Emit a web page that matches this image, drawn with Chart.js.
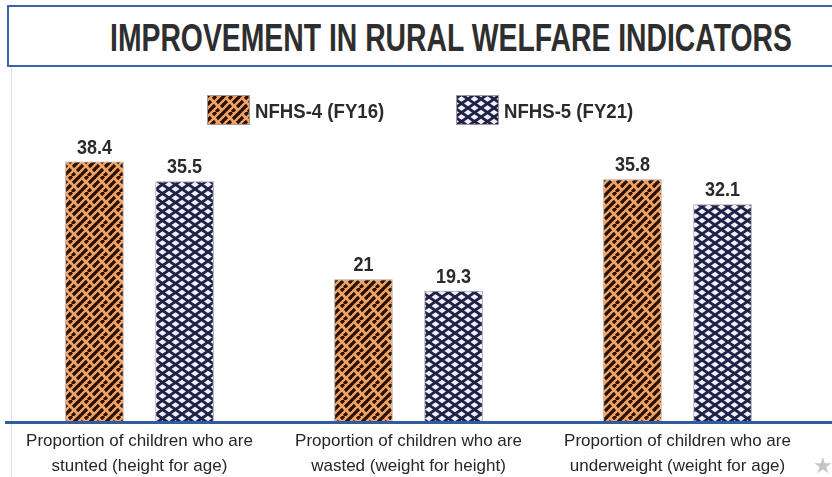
<!DOCTYPE html>
<html>
<head>
<meta charset="utf-8">
<script src="https://cdn.jsdelivr.net/npm/chart.js@4/dist/chart.umd.min.js"></script>
<style>
  html, body { margin: 0; padding: 0; background: #fff; }
  #wrap { position: relative; width: 832px; height: 477px; overflow: hidden; }
  #chart { position: absolute; left: 0; top: 0; }
  #title {
    position: absolute; left: 7px; top: 5px; width: 840px; height: 62px;
    border: 2px solid #3d64a8; background: #fff; box-sizing: border-box;
    overflow: hidden; white-space: nowrap;
  }
  #title span {
    position: absolute; left: 101px; top: 10px; display: inline-block;
    font-family: "Liberation Sans", sans-serif; font-weight: bold; font-size: 38px;
    color: #2e2e2e; transform: scaleX(0.746); transform-origin: 0 0;
  }
  #vline { position: absolute; left: 11px; top: 67px; width: 1px; height: 410px; background: #e2e2e2; }
  #star { position: absolute; left: 813px; top: 453px; font-size: 22px; color: #c4c4c4; font-family: "DejaVu Sans"; }
</style>
</head>
<body>
<div id="wrap">
  <div id="vline"></div>
  <canvas id="chart" width="832" height="487"></canvas>
  <div id="title"><span>IMPROVEMENT IN RURAL WELFARE INDICATORS</span></div>
  <div id="star">★</div>
</div>
<script>
// chart data
const categories = [
  ['Proportion of children who are', 'stunted (height for age)'],
  ['Proportion of children who are', 'wasted (weight for height)'],
  ['Proportion of children who are', 'underweight (weight for age)']
];
const seriesNames = ['NFHS-4 (FY16)', 'NFHS-5 (FY21)'];
const nfhs4 = [38.4, 21, 35.8];
const nfhs5 = [35.5, 19.3, 32.1];

// hatch patterns
function orangePattern() {
  var c = document.createElement('canvas');
  c.width = 16; c.height = 16;
  var g = c.getContext('2d');
  g.fillStyle = '#f1a265';
  g.fillRect(0, 0, 16, 16);
  g.strokeStyle = '#2a1206';
  g.lineWidth = 3.2;
  var segs = [
    [0, 16, 7, 9], [9, 7, 16, 0],
    [-4, 12, 3, 5], [5, 3, 8, 0], [8, 16, 11, 13], [13, 11, 20, 4],
    [-2, 2, 2, -2], [14, 18, 18, 14]
  ];
  segs.forEach(function (s) {
    g.beginPath(); g.moveTo(s[0], s[1]); g.lineTo(s[2], s[3]); g.stroke();
  });
  return g.createPattern(c, 'repeat');
}

function bluePattern() {
  var c = document.createElement('canvas');
  c.width = 13; c.height = 9;
  var g = c.getContext('2d');
  g.fillStyle = '#eef0fa';
  g.fillRect(0, 0, 13, 9);
  g.strokeStyle = '#202146';
  g.lineWidth = 2.8;
  g.beginPath(); g.moveTo(-13, -9); g.lineTo(26, 18); g.stroke();
  g.beginPath(); g.moveTo(-13, 18); g.lineTo(26, -9); g.stroke();
  return g.createPattern(c, 'repeat');
}

const fills = [orangePattern(), bluePattern()];

// draw condensed text by squeezing it horizontally
function squeezeText(ctx, text, x, y, sx, align) {
  ctx.save();
  ctx.translate(x, y);
  ctx.scale(sx, 1);
  ctx.textAlign = align;
  ctx.fillText(text, 0, 0);
  ctx.restore();
}

// value labels above bars
const valueLabels = {
  id: 'valueLabels',
  afterDatasetsDraw(chart) {
    const ctx = chart.ctx;
    ctx.save();
    ctx.font = 'bold 20px "Liberation Sans", sans-serif';
    ctx.fillStyle = '#2a2a2a';
    ctx.textBaseline = 'alphabetic';
    chart.data.datasets.forEach(function (ds, i) {
      chart.getDatasetMeta(i).data.forEach(function (bar, j) {
        squeezeText(ctx, String(ds.data[j]), bar.x, bar.y - 8, 0.9, 'center');
      });
    });
    ctx.restore();
  }
};

// legend with pattern swatches
const patternLegend = {
  id: 'patternLegend',
  afterDraw(chart) {
    const ctx = chart.ctx;
    const xs = [207, 456];
    ctx.save();
    ctx.font = 'bold 20px "Liberation Sans", sans-serif';
    ctx.textBaseline = 'alphabetic';
    chart.data.datasets.forEach(function (ds, i) {
      ctx.fillStyle = ds.backgroundColor;
      ctx.fillRect(xs[i], 95, 43, 30);
      ctx.strokeStyle = '#9a9a9a';
      ctx.lineWidth = 1;
      ctx.strokeRect(xs[i] + 0.5, 95.5, 42, 29);
      ctx.fillStyle = '#2a2a2a';
      squeezeText(ctx, ds.label, xs[i] + 48, 118, 0.93, 'left');
    });
    ctx.restore();
  }
};

// blue base line across the full width
const baseLine = {
  id: 'baseLine',
  afterDraw(chart) {
    const ctx = chart.ctx;
    const y = chart.scales.y.getPixelForValue(0);
    ctx.save();
    ctx.strokeStyle = '#2f5c9e';
    ctx.lineWidth = 3;
    ctx.beginPath();
    ctx.moveTo(5, y + 1.5);
    ctx.lineTo(832, y + 1.5);
    ctx.stroke();
    ctx.restore();
  }
};

new Chart(document.getElementById('chart'), {
  type: 'bar',
  data: {
    labels: categories,
    datasets: [
      { label: seriesNames[0], data: nfhs4, backgroundColor: fills[0], borderColor: '#b0a090', borderWidth: 1 },
      { label: seriesNames[1], data: nfhs5, backgroundColor: fills[1], borderColor: '#a0a0a8', borderWidth: 1 }
    ]
  },
  options: {
    responsive: false,
    animation: false,
    layout: { padding: { left: 5, right: 20, top: 117, bottom: 0 } },
    datasets: { bar: { categoryPercentage: 0.67, barPercentage: 0.65 } },
    plugins: {
      legend: { display: false },
      tooltip: { enabled: false }
    },
    scales: {
      x: {
        grid: { display: false, drawTicks: false },
        border: { display: false },
        ticks: {
          padding: 8,
          color: '#262626',
          maxRotation: 0,
          autoSkip: false,
          font: { family: '"Liberation Sans", sans-serif', size: 17, lineHeight: 1.47 }
        }
      },
      y: {
        display: false,
        min: 0,
        max: 45
      }
    }
  },
  plugins: [valueLabels, patternLegend, baseLine]
});
</script>
</body>
</html>
